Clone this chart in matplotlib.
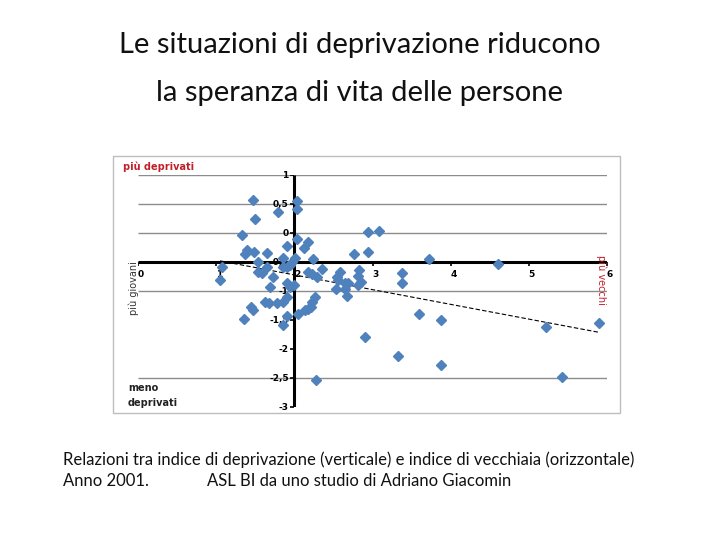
import numpy as np
import matplotlib
matplotlib.use("Agg")
import matplotlib.pyplot as plt
from matplotlib.patches import Rectangle

# ---- data ----
x_vecchiaia = [1.47, 2.03, 2.04, 1.79, 1.50, 1.33, 2.04, 2.18, 1.91, 2.13,
               1.40, 1.37, 1.49, 1.65, 1.85, 2.01, 1.97, 1.53, 2.24, 1.65,
               1.85, 1.90, 1.95, 1.08, 1.54, 1.58, 1.73, 1.05, 2.36, 2.18,
               2.23, 2.29, 2.59, 2.55, 2.76, 2.94, 2.94, 3.08, 2.83, 2.82,
               1.69, 1.91, 1.94, 1.91, 1.44, 1.47, 1.63, 1.67, 1.78, 1.85,
               1.35, 1.90, 1.85, 2.05, 2.17, 1.99, 2.14, 2.21, 2.23, 2.26,
               2.53, 2.65, 2.68, 2.65, 2.69, 2.82, 2.85, 2.56, 2.91, 2.28,
               3.72, 4.60, 3.38, 3.38, 3.60, 3.87, 5.22, 5.90, 3.32, 3.87,
               5.42]
y_deprivazione = [0.57, 0.55, 0.41, 0.36, 0.24, -0.03, -0.10, -0.16, -0.22, -0.26,
                  -0.29, -0.36, -0.33, -0.34, -0.43, -0.43, -0.50, -0.50, -0.45, -0.59,
                  -0.59, -0.59, -0.55, -0.59, -0.67, -0.69, -0.76, -0.81, -0.62, -0.67,
                  -0.71, -0.76, -0.67, -0.76, -0.36, -0.33, 0.02, 0.03, -0.64, -0.74,
                  -0.93, -0.86, -0.93, -1.10, -1.28, -1.33, -1.19, -1.21, -1.21, -1.19,
                  -1.48, -1.43, -1.59, -1.40, -1.31, -0.90, -1.33, -1.28, -1.19, -1.10,
                  -0.97, -0.97, -1.09, -0.86, -0.86, -0.90, -0.84, -0.81, -1.79, -2.53,
                  -0.45, -0.53, -0.69, -0.86, -1.40, -1.50, -1.62, -1.55, -2.12, -2.28,
                  -2.48]
x_ticks = [0, 1, 2, 3, 4, 5, 6]
y_ticks = [1, 0.5, 0, -0.5, -1, -1.5, -2, -2.5, -3]
y_tick_labels = ["1", "0,5", "0", "-0,5", "-1", "-1,5", "-2", "-2,5", "-3"]
grid_levels = [1, 0.5, 0, -1, -2.5]

title_lines = ["Le situazioni di deprivazione riducono",
               "la speranza di vita delle persone"]
caption_1 = "Relazioni tra indice di deprivazione (verticale) e indice di vecchiaia (orizzontale)"
caption_2a = "Anno 2001."
caption_2b = "ASL BI da uno studio di Adriano Giacomin"

W, H = 720, 540
fig = plt.figure(figsize=(7.2, 5.4), dpi=100)
fig.patch.set_facecolor("white")

def fx(px):
    return px / W

def fy(py):
    return 1 - py / H

# title
for line, py in zip(title_lines, [45, 93]):
    fig.text(0.5, fy(py), line, ha="center", va="center", fontsize=21,
             family="Lato", color="#111111")

# caption
fig.text(fx(63), fy(460), caption_1, ha="left", va="center", fontsize=12,
         family="Lato", color="#111111")
fig.text(fx(63), fy(481), caption_2a, ha="left", va="center", fontsize=12,
         family="Lato", color="#111111")
fig.text(fx(207), fy(481), caption_2b, ha="left", va="center", fontsize=12,
         family="Lato", color="#111111")

# chart frame
fig.patches.append(Rectangle((fx(113), fy(413)), fx(620) - fx(113), fy(156) - fy(413),
                             transform=fig.transFigure, fill=False,
                             edgecolor="#bdbdbd", lw=1.0))

ax = fig.add_axes([fx(138), fy(407), fx(607) - fx(138), fy(175) - fy(407)])
ax.set_xlim(0, 6)
ax.set_ylim(-3, 1)
ax.axis("off")

# gridlines
ax.hlines(grid_levels, 0, 6, color="#8c8c8c", lw=1.0, zorder=1)
# axes lines
x_cross, y_cross = 2, -0.5
ax.plot([0, 6], [y_cross, y_cross], color="black", lw=2.2, zorder=2, solid_capstyle="butt")
ax.plot([x_cross, x_cross], [-3, 1], color="black", lw=2.2, zorder=2, solid_capstyle="butt")

# tick marks
ax.plot(x_ticks, [y_cross] * len(x_ticks), linestyle="none", marker=3,
        markersize=3, color="black", markeredgewidth=1.2, zorder=2)
ax.plot([x_cross] * len(y_ticks), y_ticks, linestyle="none", marker=0,
        markersize=3, color="black", markeredgewidth=1.2, zorder=2)

# tick labels
for xt in x_ticks:
    ax.annotate(str(xt), (xt, y_cross), xytext=(2, -9), textcoords="offset points",
                ha="center", va="center", fontsize=6.5, fontweight="bold",
                family="DejaVu Sans", color="black", zorder=2)
for yt, lab in zip(y_ticks, y_tick_labels):
    ax.annotate(lab, (x_cross, yt), xytext=(-4, 0), textcoords="offset points",
                ha="right", va="center", fontsize=6.5, fontweight="bold",
                family="DejaVu Sans", color="black", zorder=2)

# trendline
xs = np.array(x_vecchiaia)
ys = np.array(y_deprivazione)
coef = np.polyfit(xs, ys, 1)
xl = np.array([xs.min(), xs.max()])
ax.plot(xl, np.polyval(coef, xl), color="black", lw=0.8, linestyle=(0, (4, 2)), zorder=3)

# points
ax.plot(xs, ys, linestyle="none", marker="D", markersize=5.3, color="#4f81bd",
        markeredgecolor="#4f81bd", zorder=4)

# annotations
fig.text(fx(123), fy(167), "più deprivati", ha="left", va="center", fontsize=7,
         fontweight="bold", color="#c0202a", family="DejaVu Sans")
fig.text(fx(128), fy(388), "meno", ha="left", va="center", fontsize=7,
         fontweight="bold", color="#222222", family="DejaVu Sans")
fig.text(fx(128), fy(403), "deprivati", ha="left", va="center", fontsize=7,
         fontweight="bold", color="#222222", family="DejaVu Sans")
fig.text(fx(134), fy(288), "più giovani", ha="center", va="center", fontsize=7,
         rotation=90, color="#333333", family="DejaVu Sans")
fig.text(fx(601), fy(280), "più vecchi", ha="center", va="center", fontsize=7,
         rotation=270, color="#c0202a", family="DejaVu Sans")

fig.savefig("out.png", dpi=100, facecolor="white")
